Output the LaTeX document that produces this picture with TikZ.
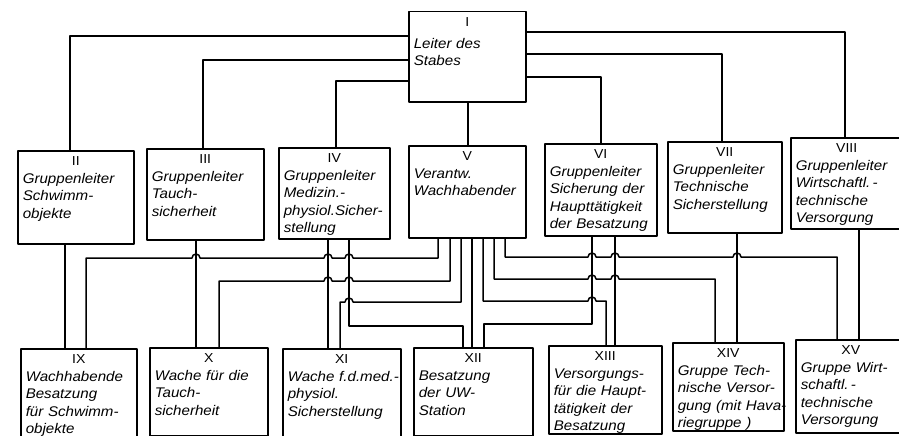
\documentclass[tikz,border=0pt]{standalone}
\usepackage{fontspec}
\setmainfont{Liberation Sans}[FakeStretch=1.08]

% Bogen, wo eine waagerechte Linie eine senkrechte kreuzt
\newcommand\hopl[2]{-- (#1+4,#2) arc[start angle=0, end angle=180, radius=4]}
\newcommand\hopr[2]{-- (#1-4,#2) arc[start angle=180, end angle=0, radius=4]}
% roemische Nummer, zentriert in der ersten Zeile
\newcommand\nr[2][0pt]{\makebox[\linewidth]{\upshape\fontsize{13}{17.5}\selectfont #2}\\[#1]}

\begin{document}
\begin{tikzpicture}[x=1pt, y=1pt, line width=1.5pt, line cap=round, line join=round,
    kasten/.style 2 args={draw, anchor=north west, inner xsep=5pt, inner ysep=3pt,
      minimum width=#1, text width=#1-10, text height=12pt, text depth=#2-18,
      align=left, font=\itshape\fontsize{14}{17.5}\selectfont}]
    \useasboundingbox (0,0) rectangle (899,-436);

    % Leiter des Stabes
    \node[kasten={117}{90}] (I) at (408,-11) {\nr[4pt]{I}Leiter des\\Stabes};

    % Gruppenleiter
    \node[kasten={116}{93}] (II) at (17,-150) {\nr{II}Gruppenleiter\\Schwimm-\\objekte};
    \node[kasten={117}{91}] (III) at (146,-148) {\nr{III}Gruppenleiter\\Tauch-\\sicherheit};
    \node[kasten={111}{91}] (IV) at (278,-147) {\nr{IV}Gruppenleiter\\Medizin.-\\\mbox{physiol.Sicher-}\\stellung};
    \node[kasten={117}{92}] (V) at (408,-145) {\nr{V}Verantw.\\Wachhabender};
    \node[kasten={112}{92}] (VI) at (544,-143) {\nr{VI}Gruppenleiter\\\mbox{Sicherung der}\\Haupttätigkeit\\\mbox{der Besatzung}};
    \node[kasten={114}{91}] (VII) at (667,-141) {\nr{VII}Gruppenleiter\\Technische\\Sicherstellung};
    \node[kasten={112}{91}] (VIII) at (790,-137) {\nr{VIII}Gruppenleiter\\\mbox{Wirtschaftl.\,-}\\technische\\Versorgung};

    % Wachen und Gruppen
    \node[kasten={116}{88}] (IX) at (20,-348) {\nr{IX}Wachhabende\\Besatzung\\\mbox{für Schwimm-}\\objekte};
    \node[kasten={118}{88}] (X) at (149,-347) {\nr{X}\mbox{Wache für die}\\Tauch-\\sicherheit};
    \node[kasten={118}{88}] (XI) at (282,-348) {\nr{XI}\mbox{Wache f.d.med.-}\\physiol.\\Sicherstellung};
    \node[kasten={119}{88}] (XII) at (413,-347) {\nr{XII}Besatzung\\\mbox{der UW-}\\Station};
    \node[kasten={113}{88}] (XIII) at (548,-345) {\nr{XIII}Versorgungs-\\\mbox{für die Haupt-}\\\mbox{tätigkeit der}\\Besatzung};
    \node[kasten={111}{88}] (XIV) at (672,-342) {\nr{XIV}\mbox{Gruppe Tech-}\\\mbox{nische Versor-}\\\mbox{gung (mit Hava-}\\\mbox{riegruppe )}};
    \node[kasten={110}{93}] (XV) at (795,-339) {\nr{XV}\mbox{Gruppe Wirt-}\\\mbox{schaftl.\,-}\\technische\\Versorgung};

    % vom Leiter des Stabes zu den Gruppenleitern
    \draw (I.west |- 0,-36) -| (II.north -| 70,0);
    \draw (I.west |- 0,-60) -| (III.north -| 203,0);
    \draw (I.west |- 0,-81) -| (IV.north -| 336,0);
    \draw (I.east |- 0,-32) -| (VIII.north -| 845,0);
    \draw (I.east |- 0,-54) -| (VII.north -| 722,0);
    \draw (I.east |- 0,-77) -| (VI.north -| 601,0);
    \draw (I.south -| 468,0) -- (V.north -| 468,0);

    % Gruppenleiter zu ihren Wachen
    \draw (II.south -| 65,0) -- (IX.north -| 65,0);
    \draw (III.south -| 196,0) -- (X.north -| 196,0);
    \draw (IV.south -| 328,0) -- (XI.north -| 328,0);
    \draw (IV.south -| 349,0) |- (463,-326) -- (XII.north -| 463,0);
    \draw (V.south -| 472,0) -- (XII.north -| 472,0);
    \draw (VI.south -| 592,0) |- (484,-324) -- (XII.north -| 484,0);
    \draw (VI.south -| 615,0) -- (XIII.north -| 615,0);
    \draw (VII.south -| 737,0) -- (XIV.north -| 737,0);
    \draw (VIII.south -| 859,0) -- (XV.north -| 859,0);

    % Wachhabender zu allen Wachen (mit Boegen)
    \draw (V.south -| 438,0) -- (438,-258) \hopl{349}{-258} \hopl{328}{-258} \hopl{196}{-258} -| (IX.north -| 86,0);
    \draw (V.south -| 450,0) -- (450,-281) \hopl{349}{-281} \hopl{328}{-281} -| (X.north -| 219,0);
    \draw (V.south -| 461,0) -- (461,-302) \hopl{349}{-302} -| (XI.north -| 340,0);
    \draw (V.south -| 483,0) -- (483,-301) \hopr{592}{-301} -| (XIII.north -| 606,0);
    \draw (V.south -| 494,0) -- (494,-279) \hopr{592}{-279} \hopr{615}{-279} -| (XIV.north -| 715,0);
    \draw (V.south -| 505,0) -- (505,-257) \hopr{592}{-257} \hopr{615}{-257} \hopr{737}{-257} -| (XV.north -| 837,0);
\end{tikzpicture}
\end{document}
